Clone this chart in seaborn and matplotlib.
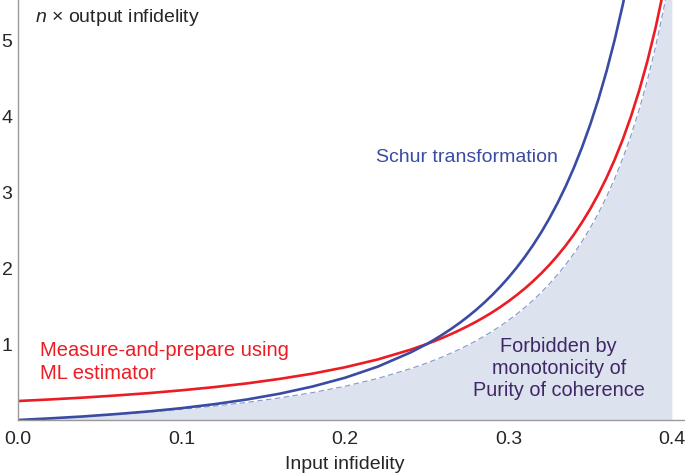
import matplotlib
matplotlib.use('Agg')
import matplotlib.pyplot as plt
import seaborn as sns
import pandas as pd
import numpy as np


# ---------------------------------------------------------------------------
# Data
# ---------------------------------------------------------------------------

input_infidelity = [0.0, 0.02, 0.04, 0.06, 0.08, 0.10, 0.12, 0.14, 0.16, 0.18,
                    0.20, 0.22, 0.24, 0.25, 0.255, 0.26, 0.265, 0.27, 0.275,
                    0.28, 0.285, 0.29, 0.295, 0.30, 0.305, 0.31, 0.315, 0.32,
                    0.325, 0.33, 0.335, 0.34, 0.345, 0.35, 0.355, 0.36, 0.365,
                    0.37, 0.375, 0.38, 0.385, 0.39, 0.395, 0.40]

schur = [0.0, 0.022, 0.047, 0.078, 0.113, 0.156, 0.208, 0.270, 0.346, 0.440,
         0.556, 0.702, 0.888, 1.000, 1.062, 1.129, 1.200, 1.276, 1.358,
         1.446, 1.541, 1.644, 1.755, 1.875, 2.005, 2.147, 2.301, 2.469,
         2.653, 2.855, 3.076, 3.320, 3.590, 3.889, 4.221, 4.592, 5.007,
         5.473, 6.000, None, None, None, None, None]

measure_prepare = [0.250, 0.271, 0.295, 0.323, 0.354, 0.391, 0.433, 0.482, 0.541, 0.610,
                   0.694, 0.797, 0.925, 1.000, 1.041, 1.085, 1.132, 1.182, 1.235,
                   1.291, 1.352, 1.417, 1.487, 1.563, 1.644, 1.731, 1.826, 1.929,
                   2.041, 2.163, 2.296, 2.441, 2.602, 2.778, 2.973, 3.189, 3.429,
                   3.698, 4.000, 4.340, 4.726, 5.165, 5.669, None]

forbidden_bound = [0.0, 0.021, 0.045, 0.073, 0.104, 0.141, 0.183, 0.232, 0.291, 0.360,
                   0.444, 0.547, 0.675, 0.750, 0.791, 0.835, 0.882, 0.931, 0.985,
                   1.041, 1.102, 1.167, 1.237, 1.313, 1.394, 1.481, 1.576, 1.679,
                   1.791, 1.913, 2.046, 2.191, 2.351, 2.528, 2.723, 2.939, 3.179,
                   3.448, 3.750, 4.090, 4.476, 4.915, 5.419, 6.000]

x_ticks = [0.0, 0.1, 0.2, 0.3, 0.4]
y_ticks = [1, 2, 3, 4, 5]

RED = "#ec1c24"
BLUE = "#3a4ba3"
SHADE = "#dde3ee"
DASH = "#8296c9"
PURPLE = "#3f2766"
AXIS = "#9a9a9a"

# ---------------------------------------------------------------------------
# Style
# ---------------------------------------------------------------------------

sns.set_style("white")
plt.rcParams["font.family"] = ["Liberation Sans", "DejaVu Sans"]
plt.rcParams["mathtext.fontset"] = "custom"
plt.rcParams["mathtext.it"] = "Liberation Sans:italic"
plt.rcParams["mathtext.rm"] = "Liberation Sans"

df = pd.DataFrame({
    "x": input_infidelity,
    "schur": pd.array(schur, dtype="Float64"),
    "mp": pd.array(measure_prepare, dtype="Float64"),
    "bound": forbidden_bound,
}).astype(float)

fig = plt.figure(figsize=(6.85, 4.76), dpi=100)
ax = fig.add_axes([18 / 685, 56 / 476, 667 / 685, 420 / 476])

# forbidden region
ax.fill_between(df["x"], 0, df["bound"], color=SHADE, lw=0, zorder=1)
sns.lineplot(data=df, x="x", y="bound", ax=ax, color=DASH, lw=0.8,
             linestyle=(0, (5, 3)), zorder=2)

sns.lineplot(data=df.dropna(subset=["mp"]), x="x", y="mp", ax=ax,
             color=RED, lw=1.9, zorder=3)
sns.lineplot(data=df.dropna(subset=["schur"]), x="x", y="schur", ax=ax,
             color=BLUE, lw=1.9, zorder=4)

ax.set_xlim(0, 0.408)
ax.set_ylim(0, 5.53)

for s in ["top", "right"]:
    ax.spines[s].set_visible(False)
for s in ["left", "bottom"]:
    ax.spines[s].set_color(AXIS)
    ax.spines[s].set_linewidth(1.0)
    ax.spines[s].set_zorder(5)

ax.set_xticks(x_ticks)
ax.set_xticklabels([f"{v:.1f}" for v in x_ticks])
ax.set_xticks(np.arange(0, 0.401, 0.02), minor=True)
ax.set_yticks(y_ticks)
ax.set_yticklabels([str(v) for v in y_ticks])
ax.set_yticks(np.arange(0, 5.5, 0.2), minor=True)
ax.tick_params(which="both", direction="in", color=AXIS, width=0.8)
ax.tick_params(which="major", length=6, labelsize=14)
ax.tick_params(which="minor", length=3.5)
ax.tick_params(axis="x", pad=8)
ax.tick_params(axis="y", pad=4)

ax.set_xlabel("Input infidelity", fontsize=14)
ax.xaxis.set_label_coords(0.2 / 0.408, -0.085)
ax.set_ylabel("")

ax.text(0.0104, 5.30, r"$n$ × output infidelity", fontsize=14,
        ha="left", va="center")
ax.text(0.0135, 0.76, "Measure-and-prepare using\nML estimator", color=RED,
        fontsize=14.5, ha="left", va="center", linespacing=1.25)
ax.text(0.2744, 3.46, "Schur transformation", color=BLUE,
        fontsize=14, ha="center", va="center")
ax.text(0.3308, 0.68, "Forbidden by\nmonotonicity of\nPurity of coherence",
        color=PURPLE, fontsize=14.3, ha="center", va="center", linespacing=1.22,
        zorder=6)

fig.savefig("out.png", dpi=100)
plt.close()
